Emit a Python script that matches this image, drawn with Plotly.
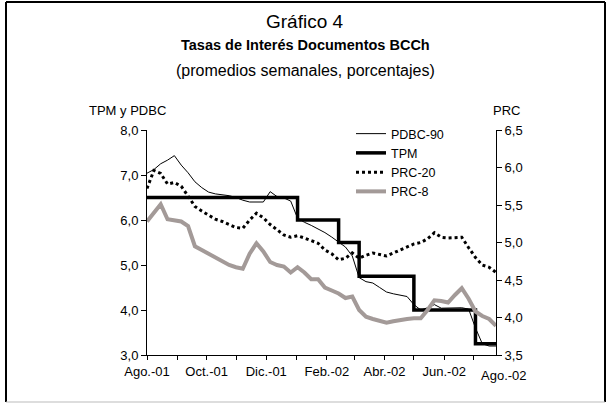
import pandas as pd
import plotly.graph_objects as go

# ---------------- data (weekly averages) ----------------
start_date = "2001-08-01"
n_weeks = 52
dates = pd.date_range(start_date, periods=n_weeks, freq="7D")

pdbc90 = [7.04, 7.12, 7.25, 7.33, 7.43, 7.22, 7.05, 6.85, 6.72, 6.62,
          6.58, 6.56, 6.54, 6.50, 6.44, 6.40, 6.40, 6.40, 6.63, 6.52,
          6.49, 6.42, 6.04, 5.95, 5.88, 5.80, 5.72, 5.62, 5.50, 5.40,
          5.20, 4.72, 4.63, 4.60, 4.50, 4.40, 4.36, 4.33, 4.30, 4.12,
          4.00, 4.05, 4.12, 4.04, 4.04, 4.04, 4.05, 4.02, 3.60, 3.25,
          3.20, 3.20]

tpm = [6.5] * 22 + [6.0] * 6 + [5.5] * 3 + [4.75] * 8 + [4.0] * 9 + [3.25] * 4

prc20 = [5.72, 5.96, 5.92, 5.78, 5.80, 5.75, 5.62, 5.48, 5.42, 5.37,
         5.31, 5.28, 5.24, 5.20, 5.19, 5.30, 5.39, 5.33, 5.24, 5.17,
         5.10, 5.07, 5.09, 5.06, 5.03, 4.99, 4.90, 4.85, 4.77, 4.79,
         4.86, 4.79, 4.83, 4.86, 4.84, 4.82, 4.86, 4.90, 4.94, 4.98,
         5.00, 5.05, 5.13, 5.07, 5.06, 5.07, 5.07, 4.93, 4.80, 4.70,
         4.67, 4.60]

prc8 = [5.28, 5.40, 5.51, 5.31, 5.30, 5.28, 5.22, 4.95, 4.90, 4.85,
        4.80, 4.75, 4.70, 4.67, 4.65, 4.85, 4.99, 4.88, 4.74, 4.70,
        4.68, 4.60, 4.67, 4.60, 4.51, 4.51, 4.40, 4.36, 4.32, 4.26,
        4.28, 4.10, 4.01, 3.98, 3.95, 3.93, 3.95, 3.97, 3.98, 3.99,
        3.99, 4.10, 4.23, 4.22, 4.20, 4.30, 4.39, 4.25, 4.08, 4.02,
        3.98, 3.89]

series_names = ["PDBC-90", "TPM", "PRC-20", "PRC-8"]

major_tickvals = ["2001-08-01", "2001-10-01", "2001-12-01",
                  "2002-02-01", "2002-04-01", "2002-06-01"]
major_ticktext = ["Ago.-01", "Oct.-01", "Dic.-01", "Feb.-02", "Abr.-02", "Jun.-02"]
last_tick_date = "2002-08-01"
last_tick_text = "Ago.-02"

left_ticks = [3, 4, 5, 6, 7, 8]
right_ticks = [3.5, 4.0, 4.5, 5.0, 5.5, 6.0, 6.5]

# ---------------- layout geometry ----------------
W, H = 610, 405
PLOT_L, PLOT_T, PW, PH = 147, 130, 349, 225   # plot box in window pixels
ML = PLOT_L
MT = PLOT_T
MR = W - ML - PW
MB = H - MT - PH
FONT = "Liberation Sans, Arial, sans-serif"


def px2x(px):
    return (px - ML) / PW


def py2y(py):
    return (H - MB - py) / PH


x_start = pd.Timestamp(dates[0])
x_end = pd.Timestamp(dates[-1])

fig = go.Figure()

fig.add_trace(go.Scatter(x=dates, y=pdbc90, name=series_names[0], mode="lines",
                         line=dict(color="black", width=1)))
fig.add_trace(go.Scatter(x=dates, y=tpm, name=series_names[1], mode="lines",
                         line=dict(color="black", width=3.5, shape="hv")))
fig.add_trace(go.Scatter(x=dates, y=prc20, name=series_names[2], mode="lines",
                         yaxis="y2", line=dict(color="black", width=3, dash="dot")))
fig.add_trace(go.Scatter(x=dates, y=prc8, name=series_names[3], mode="lines",
                         yaxis="y2", line=dict(color="#A39A98", width=4)))

axis_common = dict(showgrid=False, zeroline=False, showline=True, linecolor="black",
                   linewidth=1, ticks="outside", tickcolor="black", tickwidth=1,
                   tickfont=dict(family=FONT, size=13, color="black"))

fig.update_layout(
    width=W, height=H, autosize=False,
    margin=dict(l=ML, r=MR, t=MT, b=MB),
    paper_bgcolor="white", plot_bgcolor="white",
    separators=",.",
    font=dict(family=FONT, size=13, color="black"),
    hovermode=False,
    xaxis=dict(type="date", range=[x_start, x_end],
               tickvals=major_tickvals, ticktext=major_ticktext, ticklen=4,
               minor=dict(dtick="M1", tick0=start_date, ticks="outside",
                          ticklen=4, tickcolor="black"),
               **axis_common),
    yaxis=dict(range=[3, 8], tickvals=left_ticks, tickformat=".1f", ticklen=5,
               **axis_common),
    yaxis2=dict(range=[3.5, 6.5], tickvals=right_ticks, tickformat=".1f",
                ticklen=5, overlaying="y", side="right", anchor="x",
                **axis_common),
    legend=dict(x=px2x(351), y=py2y(119), xanchor="left", yanchor="top",
                bgcolor="rgba(0,0,0,0)", borderwidth=0,
                font=dict(family=FONT, size=12.5, color="black")),
    showlegend=True,
)

# titles
TX = 305
fig.add_annotation(text="Gráfico 4", xref="paper", yref="paper", x=px2x(TX), y=py2y(21),
                   showarrow=False, font=dict(family=FONT, size=19),
                   xanchor="center", yanchor="middle")
fig.add_annotation(text="<b>Tasas de Interés Documentos BCCh</b>", xref="paper", yref="paper",
                   x=px2x(TX), y=py2y(45), showarrow=False,
                   font=dict(family=FONT, size=14.5), xanchor="center", yanchor="middle")
fig.add_annotation(text="(promedios semanales, porcentajes)", xref="paper", yref="paper",
                   x=px2x(TX), y=py2y(70), showarrow=False,
                   font=dict(family=FONT, size=16), xanchor="center", yanchor="middle")
fig.add_annotation(text="TPM y PDBC", xref="paper", yref="paper", x=px2x(127), y=py2y(110),
                   showarrow=False, font=dict(family=FONT, size=13),
                   xanchor="center", yanchor="middle")
fig.add_annotation(text="PRC", xref="paper", yref="paper", x=px2x(506), y=py2y(110),
                   showarrow=False, font=dict(family=FONT, size=13),
                   xanchor="center", yanchor="middle")

# last x tick label (just beyond the plotted range)
span = (x_end - x_start).total_seconds()
frac_last = (pd.Timestamp(last_tick_date) - x_start).total_seconds() / span
fig.add_annotation(text=last_tick_text, xref="paper", yref="paper", x=frac_last, y=py2y(375),
                   showarrow=False, font=dict(family=FONT, size=13),
                   xanchor="center", yanchor="middle")

# outer frame
fig.add_shape(type="line", xref="paper", yref="paper", x0=px2x(6), x1=px2x(6),
              y0=py2y(2), y1=py2y(402), line=dict(color="black", width=2))
fig.add_shape(type="line", xref="paper", yref="paper", x0=px2x(6), x1=px2x(605),
              y0=py2y(2), y1=py2y(2), line=dict(color="black", width=2))
fig.add_shape(type="line", xref="paper", yref="paper", x0=px2x(605), x1=px2x(605),
              y0=py2y(2), y1=py2y(402), line=dict(color="black", width=2))
fig.add_shape(type="line", xref="paper", yref="paper", x0=px2x(6), x1=px2x(605),
              y0=py2y(402), y1=py2y(402), line=dict(color="#BBBBBB", width=1))

# remove the default page margin so the figure sits at the window's top-left corner
fig.write_html("out.html", config={"displayModeBar": False},
               post_script="document.body.style.margin='0';")
